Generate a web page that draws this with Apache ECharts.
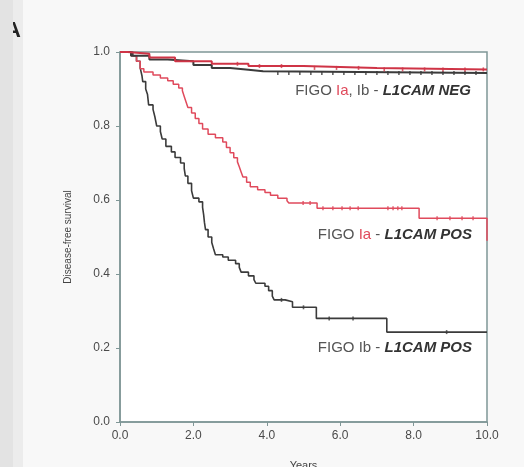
<!DOCTYPE html>
<html><head><meta charset="utf-8">
<script src="https://cdn.jsdelivr.net/npm/echarts@6/dist/echarts.min.js"></script>
<style>html,body{margin:0;padding:0;background:#f6f6f6}#c{width:524px;height:467px}</style>
</head><body><div id="c"></div>
<script>
// Kaplan-Meier step data: [years, survival]
const ibPosTimes = [0, 0.35, 0.45, 0.55, 0.6, 0.62, 0.7, 0.75, 0.78, 0.9, 0.95, 1.0, 1.1, 1.15, 1.25, 1.4, 1.5, 1.65, 1.75, 1.78, 1.85, 1.95, 2.0, 2.15, 2.25, 2.28, 2.3, 2.33, 2.4, 2.5, 2.55, 2.6, 2.8, 2.95, 3.15, 3.25, 3.3, 3.5, 3.65, 3.7, 3.95, 4.05, 4.15, 4.2, 4.5, 4.7, 5.35, 7.27, 10.0];
const ibPosSurv  = [1.0, 0.99, 0.975, 0.957, 0.935, 0.92, 0.9, 0.885, 0.857, 0.845, 0.825, 0.80, 0.785, 0.765, 0.745, 0.73, 0.715, 0.70, 0.685, 0.665, 0.645, 0.625, 0.605, 0.595, 0.58, 0.56, 0.54, 0.52, 0.50, 0.485, 0.468, 0.452, 0.446, 0.437, 0.428, 0.418, 0.405, 0.395, 0.385, 0.375, 0.367, 0.355, 0.34, 0.33, 0.325, 0.31, 0.28, 0.243, 0.243];
const ibPosCensor = [4.4, 5.0, 5.7, 6.35, 8.9];

const iaPosTimes = [0, 0.3, 0.45, 0.55, 0.65, 0.9, 1.1, 1.3, 1.45, 1.6, 1.7, 1.75, 1.8, 1.85, 1.95, 2.05, 2.15, 2.25, 2.4, 2.6, 2.8, 2.9, 3.0, 3.1, 3.2, 3.25, 3.3, 3.35, 3.45, 3.55, 3.75, 3.95, 4.1, 4.3, 4.55, 4.6, 5.37, 8.15, 10.0];
const iaPosSurv  = [1.0, 0.99, 0.975, 0.955, 0.946, 0.938, 0.93, 0.922, 0.913, 0.903, 0.895, 0.88, 0.865, 0.85, 0.835, 0.82, 0.807, 0.792, 0.778, 0.768, 0.757, 0.742, 0.728, 0.714, 0.703, 0.69, 0.676, 0.662, 0.648, 0.636, 0.628, 0.62, 0.613, 0.605, 0.598, 0.592, 0.578, 0.551, 0.49];
const iaPosCensor = [4.99, 5.18, 5.53, 5.8, 6.05, 6.27, 6.49, 7.3, 7.44, 7.57, 7.68, 8.64, 8.99, 9.32, 9.62];

const negBlackTimes = [0, 0.3, 0.8, 1.3, 2.0, 2.5, 3.0, 3.5, 3.9, 10.0];
const negBlackSurv  = [1.0, 0.99, 0.98, 0.975, 0.965, 0.957, 0.952, 0.948, 0.943, 0.943];
const negBlackCensor = [4.3, 4.6, 4.9, 5.2, 5.5, 5.8, 6.1, 6.4, 6.7, 7.0, 7.3, 7.6, 7.9, 8.2, 8.5, 8.8, 9.1, 9.4, 9.7];

const negRedTimes = [0, 0.2, 0.8, 1.5, 2.5, 3.5, 5.0, 7.0, 10.0];
const negRedSurv  = [1.0, 0.995, 0.985, 0.975, 0.968, 0.962, 0.957, 0.953, 0.953];
const negRedCensor = [3.2, 3.8, 4.4, 5.3, 5.9, 6.5, 7.2, 7.7, 8.3, 8.8, 9.4, 9.9];

const xTicks = [0, 2, 4, 6, 8, 10];
const yTicks = [0, 0.2, 0.4, 0.6, 0.8, 1.0];

function pairs(t, s) { return t.map((v, i) => [v, s[i]]); }
function survAt(t, s, x) { let v = s[0]; for (let i = 0; i < t.length; i++) { if (t[i] <= x) v = s[i]; } return v; }
function censor(t, s, c) { return c.map(x => [x, survAt(t, s, x)]); }

const BLACK = '#3b3b3b', RED = '#e04a5c', RED2 = '#cf3446';
const FONT = 'Liberation Sans, Arial, sans-serif';
const chart = echarts.init(document.getElementById('c'), null, {renderer: 'canvas'});
const tickFont = {color: '#4a4a4a', fontSize: 12, fontFamily: FONT};

function line(data, color, w, z) {
  return {type: 'line', step: 'end', data, showSymbol: false, symbol: 'none', z,
    lineStyle: {color, width: w}, itemStyle: {color}, animation: false};
}
function marks(data, color, z) {
  return {type: 'scatter', data, symbol: 'rect', symbolSize: [1.6, 4], z,
    itemStyle: {color}, animation: false, silent: true};
}
function rich() {
  return {a: {font: '15px ' + FONT, fill: '#555', color: '#555'},
          r: {font: '15px ' + FONT, fill: RED, color: RED},
          b: {font: 'italic bold 15px ' + FONT, fill: '#333', color: '#333'}};
}

chart.setOption({
  backgroundColor: '#f8f8f8',
  grid: {left: 120, top: 52, right: 37, bottom: 45, outerBoundsMode: 'none', containLabel: false,
    show: true, backgroundColor: '#ffffff', borderColor: '#7f9696', borderWidth: 1.5},
  xAxis: {type: 'value', min: 0, max: 10, interval: 2,
    name: 'Years', nameLocation: 'middle', nameGap: 38,
    nameTextStyle: {color: '#444', fontSize: 11, fontFamily: FONT},
    axisLine: {show: true, lineStyle: {color: '#7f9696', width: 1.5}},
    axisTick: {show: true, length: 4, lineStyle: {color: '#7f9696'}},
    axisLabel: Object.assign({margin: 8, formatter: v => xTicks.includes(v) ? v.toFixed(1) : ''}, tickFont),
    splitLine: {show: false}},
  yAxis: {type: 'value', min: 0, max: 1, interval: 0.2,
    name: 'Disease-free survival', nameLocation: 'middle', nameGap: 47, nameRotate: 90,
    nameTextStyle: {color: '#444', fontSize: 10, fontFamily: FONT},
    axisLine: {show: true, lineStyle: {color: '#7f9696', width: 1.5}},
    axisTick: {show: true, length: 4, lineStyle: {color: '#7f9696'}},
    axisLabel: Object.assign({margin: 10, formatter: v => v.toFixed(1)}, tickFont),
    splitLine: {show: false}},
  series: [
    line(pairs(ibPosTimes, ibPosSurv), BLACK, 1.6, 3),
    line(pairs(iaPosTimes, iaPosSurv), RED, 1.5, 3),
    line(pairs(negBlackTimes, negBlackSurv), BLACK, 2, 3),
    line(pairs(negRedTimes, negRedSurv), RED2, 2, 4),
    marks(censor(ibPosTimes, ibPosSurv, ibPosCensor), BLACK, 5),
    marks(censor(iaPosTimes, iaPosSurv, iaPosCensor), RED, 5),
    marks(censor(negBlackTimes, negBlackSurv, negBlackCensor), BLACK, 5),
    marks(censor(negRedTimes, negRedSurv, negRedCensor), RED2, 5)
  ],
  graphic: [
    {type: 'group', children: [
      {type: 'text', x: 5, y: 20, z: 1, style: {text: 'A', font: 'bold 22px ' + FONT, fill: '#222'}},
      {type: 'rect', x: 0, y: 0, z: 5, shape: {width: 13, height: 467}, style: {fill: '#e3e3e3'}, silent: true},
      {type: 'rect', x: 13, y: 0, z: 0, shape: {width: 10, height: 467}, style: {fill: '#ececec'}, silent: true}
    ]},
    {type: 'text', right: 53, top: 83, style: {text: '{a|FIGO }{r|Ia}{a|, Ib - }{b|L1CAM NEG}', rich: rich()}},
    {type: 'text', right: 52, top: 227, style: {text: '{a|FIGO }{r|Ia}{a| - }{b|L1CAM POS}', rich: rich()}},
    {type: 'text', right: 52, top: 340, style: {text: '{a|FIGO Ib - }{b|L1CAM POS}', rich: rich()}}
  ]
});
</script></body></html>
